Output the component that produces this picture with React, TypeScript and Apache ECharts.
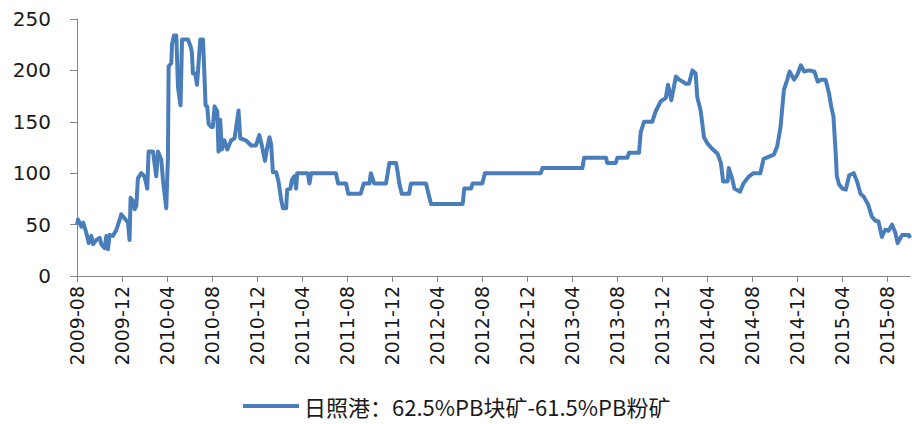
import React, { useEffect, useRef } from "react";
import * as echarts from "echarts";

// x positions in months since 2009-08 (0 = 2009-08)
const monthOffsets: number[] = [
  0.0, 0.09, 0.38, 0.55, 0.68, 0.83, 1.04, 1.27, 1.42, 1.72, 2.01, 2.16, 2.46, 2.6, 2.75, 2.9, 3.2, 3.5, 3.8, 3.93,
  4.23, 4.53, 4.67, 4.76, 4.97, 5.12, 5.27, 5.41, 5.71, 6.0, 6.24, 6.36, 6.75, 7.04, 7.19, 7.49, 7.64, 7.78, 7.93, 8.08,
  8.14, 8.38, 8.44, 8.61, 8.82, 8.97, 9.2, 9.33, 9.86, 10.1, 10.2, 10.3, 10.5, 10.66, 10.8, 10.95, 11.19, 11.28, 11.42, 11.57,
  11.69, 11.93, 12.07, 12.22, 12.46, 12.57, 12.72, 12.87, 13.1, 13.35, 13.7, 14.0, 14.35, 14.5, 15.0, 15.47, 15.9, 16.2, 16.4, 16.7,
  16.9, 17.1, 17.25, 17.4, 17.7, 17.9, 18.14, 18.29, 18.58, 18.67, 18.96, 19.08, 19.3, 19.47, 19.56, 20.5, 20.65, 20.8, 23.0, 23.2,
  23.9, 24.1, 25.2, 25.47, 25.98, 26.1, 26.4, 27.45, 27.6, 27.75, 28.34, 28.5, 28.63, 28.85, 29.5, 29.67, 31.0, 31.45, 34.26, 34.4,
  35.0, 35.15, 36.0, 36.24, 41.2, 41.35, 44.9, 45.05, 47.0, 47.1, 47.86, 48.0, 48.9, 49.04, 49.93, 50.08, 50.37, 51.1, 51.4, 51.86,
  52.3, 52.5, 52.8, 53.2, 53.5, 54.1, 54.36, 54.67, 54.96, 55.1, 55.4, 55.7, 56.0, 56.4, 56.9, 57.2, 57.4, 57.8, 57.9, 58.2,
  58.4, 58.9, 59.2, 59.7, 60.1, 60.7, 61.0, 61.9, 62.2, 62.5, 62.8, 63.1, 63.3, 63.7, 64.0, 64.3, 64.6, 65.0, 65.5, 65.8,
  66.1, 66.5, 66.8, 67.0, 67.2, 67.4, 67.5, 67.7, 68.0, 68.3, 68.6, 69.0, 69.3, 69.6, 69.9, 70.3, 70.6, 70.9, 71.2, 71.5,
  71.8, 72.1, 72.4, 72.7, 72.9, 73.3, 73.9, 74.0,
];

const spreadValues: number[] = [
  50, 55, 48, 52, 47, 42, 32, 39, 31, 35, 37, 31, 27, 39, 26, 40, 39, 45, 55, 60,
  56, 52, 35, 76, 73, 65, 68, 95, 100, 97, 85, 121, 121, 97, 121, 113, 93, 80, 66, 116,
  204, 207, 225, 234, 234, 184, 166, 230, 230, 223, 218, 197, 197, 186, 207, 230, 230, 207, 166, 165,
  148, 145, 145, 165, 160, 121, 152, 123, 132, 123, 132, 134, 161, 134, 132, 127, 127, 137, 128, 112,
  125, 135, 128, 101, 101, 92, 74, 66, 66, 84, 85, 93, 97, 85, 100, 100, 90, 100, 100, 90,
  90, 80, 80, 90, 90, 100, 90, 90, 100, 110, 110, 100, 90, 80, 80, 90, 90, 70, 70, 85,
  85, 90, 90, 100, 100, 105, 105, 115, 115, 110, 110, 115, 115, 120, 120, 140, 150, 150, 160, 170,
  173, 186, 171, 194, 191, 187, 187, 200, 197, 174, 161, 135, 129, 124, 119, 110, 92, 92, 105, 95,
  85, 82, 90, 97, 100, 100, 114, 118, 126, 145, 181, 191, 199, 191, 196, 205, 199, 200, 199, 189,
  191, 191, 178, 165, 155, 119, 97, 89, 85, 84, 98, 100, 92, 80, 77, 69, 58, 54, 53, 38,
  45, 44, 50, 42, 32, 40, 40, 37,
];

const tickLabels: string[] = [
  "2009-08", "2009-12", "2010-04", "2010-08", "2010-12", "2011-04", "2011-08", "2011-12",
  "2012-04", "2012-08", "2012-12", "2013-04", "2013-08", "2013-12", "2014-04", "2014-08",
  "2014-12", "2015-04", "2015-08",
];

const seriesName = "日照港：62.5%PB块矿-61.5%PB粉矿";

export default function App() {
  const ref = useRef<HTMLDivElement>(null);
  useEffect(() => {
    if (!ref.current) return;
    const chart = echarts.init(ref.current, undefined, { renderer: "svg" });
    const tickValues = tickLabels.map((_, i) => i * 4);
    const data = monthOffsets.map((m, i) => [m, spreadValues[i]]);
    chart.setOption({
      animation: false,
      backgroundColor: "#ffffff",
      grid: { left: 77, right: 2, top: 19, bottom: 148, containLabel: false },
      legend: {
        show: true,
        left: 243,
        top: 395,
        padding: 0,
        icon: "rect",
        itemWidth: 56,
        itemHeight: 4,
        itemGap: 10,
        textStyle: { fontSize: 22, color: "#1a1a1a", fontFamily: "Noto Sans CJK SC" },
        data: [{ name: seriesName, itemStyle: { color: "#4a7ebb" } }],
      },
      xAxis: {
        type: "value",
        min: 0,
        max: 74,
        interval: 4,
        splitLine: { show: false },
        axisLine: { show: true, lineStyle: { color: "#868686", width: 1 } },
        axisTick: { show: true, length: 6, customValues: tickValues, lineStyle: { color: "#868686" } },
        axisLabel: {
          customValues: tickValues,
          rotate: 90,
          margin: 10,
          fontSize: 19,
          color: "#1a1a1a",
          fontFamily: "DejaVu Sans",
          formatter: (v: number) => tickLabels[Math.round(v / 4)] ?? "",
        },
      },
      yAxis: {
        type: "value",
        min: 0,
        max: 250,
        interval: 50,
        splitLine: { show: false },
        axisLine: { show: true, lineStyle: { color: "#868686", width: 1 } },
        axisTick: { show: true, length: 7, lineStyle: { color: "#868686" } },
        axisLabel: { fontSize: 20, margin: 26, color: "#1a1a1a", fontFamily: "DejaVu Sans" },
      },
      series: [
        {
          name: seriesName,
          type: "line",
          data,
          showSymbol: false,
          symbol: "none",
          lineStyle: { color: "#4a7ebb", width: 4, join: "round" },
          itemStyle: { color: "#4a7ebb" },
        },
      ],
    });
    return () => chart.dispose();
  }, []);
  return <div ref={ref} style={{ width: 912, height: 424, position: "absolute", left: 0, top: 0 }} />;
}
